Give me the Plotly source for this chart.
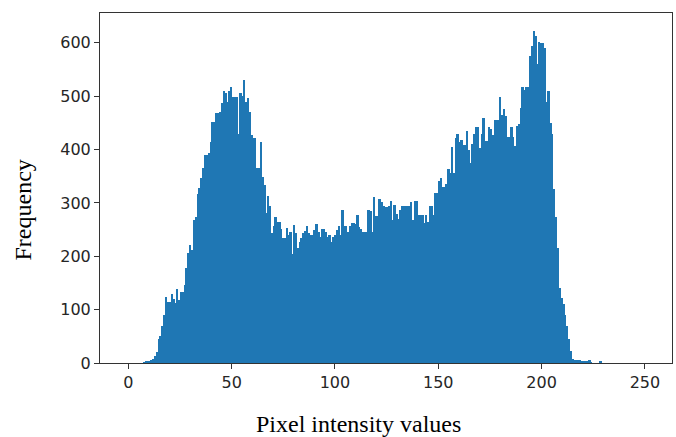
import plotly.graph_objects as go

# Histogram definition: 256 equal-width bins spanning [bin_lo, bin_hi]
bin_lo = 0.0
bin_hi = 230.0
n_bins = 256

counts = [
    0, 0, 0, 0, 0, 0, 0, 0, 1, 2,            # 0-9
    3, 4, 5, 7, 13, 21, 45, 50, 69, 90,      # 10-19
    124, 115, 115, 129, 120, 112, 139, 118, 134, 134,  # 20-29
    146, 178, 207, 221, 212, 268, 274, 317, 328, 347,  # 30-39
    365, 390, 390, 393, 415, 452, 452, 469, 469, 471,  # 40-49
    487, 509, 507, 490, 509, 518, 499, 499, 498, 430,  # 50-59
    507, 500, 531, 490, 497, 471, 428, 421, 421, 365,  # 60-69
    365, 415, 349, 334, 281, 313, 294, 243, 257, 274,  # 70-79
    265, 265, 251, 234, 234, 253, 240, 246, 205, 259,  # 80-89
    244, 215, 226, 234, 244, 248, 256, 243, 240, 240,  # 90-99
    249, 261, 246, 236, 252, 252, 246, 236, 240, 227,  # 100-109
    237, 239, 249, 256, 240, 286, 256, 256, 246, 257,  # 110-119
    262, 262, 260, 277, 255, 252, 246, 246, 246, 287,  # 120-129
    284, 246, 311, 276, 276, 307, 301, 294, 292, 292,  # 130-139
    294, 304, 268, 296, 279, 269, 286, 294, 294, 294,  # 140-149
    294, 294, 302, 268, 304, 304, 277, 277, 277, 262,  # 150-159
    277, 265, 294, 294, 277, 318, 318, 342, 346, 329,  # 160-169
    329, 336, 363, 356, 404, 356, 421, 429, 415, 418,  # 170-179
    409, 409, 434, 399, 374, 411, 430, 443, 443, 403,  # 180-189
    430, 459, 417, 417, 443, 438, 427, 456, 456, 456,  # 190-199
    498, 465, 476, 463, 423, 423, 442, 423, 406, 444,  # 200-209
    448, 478, 518, 512, 518, 518, 576, 594, 623, 613,  # 210-219
    560, 602, 600, 600, 590, 490, 509, 449, 429, 326,  # 220-229
    274, 215, 140, 121, 110, 90, 70, 45, 22, 8,        # 230-239
    5, 5, 5, 5, 4, 3, 3, 2, 6, 1,                      # 240-249
    0, 0, 0, 0, 4, 0,                                  # 250-255
]

x_ticks = [0, 50, 100, 150, 200, 250]
y_ticks = [0, 100, 200, 300, 400, 500, 600]
x_title = "Pixel intensity values"
y_title = "Frequency"

bin_w = (bin_hi - bin_lo) / n_bins
centers = [bin_lo + (i + 0.5) * bin_w for i in range(n_bins)]

fig = go.Figure(
    go.Bar(
        x=centers,
        y=counts,
        width=bin_w,
        marker=dict(color="#1f77b4", line=dict(width=0)),
        hoverinfo="x+y",
    )
)

axis_common = dict(
    showgrid=False,
    zeroline=False,
    showline=True,
    mirror=True,
    linecolor="#333333",
    linewidth=1,
    ticks="outside",
    ticklen=5,
    tickwidth=1,
    tickcolor="#333333",
    tickfont=dict(family="DejaVu Sans", size=16, color="#262626"),
)

fig.update_xaxes(
    range=[-13.7, 263.1],
    tickmode="array",
    tickvals=x_ticks,
    ticktext=[str(v) for v in x_ticks],
    **axis_common,
)
fig.update_yaxes(
    range=[0, 656],
    tickmode="array",
    tickvals=y_ticks,
    ticktext=[str(v) for v in y_ticks],
    **axis_common,
)

fig.update_layout(
    width=676,
    height=437,
    autosize=False,
    margin=dict(l=100, r=4, t=13, b=74),
    paper_bgcolor="white",
    plot_bgcolor="white",
    bargap=0,
    showlegend=False,
    annotations=[
        dict(
            text=x_title, xref="paper", yref="paper",
            x=(358 - 100) / 572, y=(363 - 424) / 350,
            xanchor="center", yanchor="middle", showarrow=False,
            font=dict(family="Liberation Serif", size=24, color="black"),
        ),
        dict(
            text=y_title, xref="paper", yref="paper",
            x=(22.5 - 100) / 572, y=(363 - 210) / 350,
            xanchor="center", yanchor="middle", showarrow=False,
            textangle=-90,
            font=dict(family="Liberation Serif", size=24, color="black"),
        ),
    ],
)

fig.write_html(
    "out.html",
    config={"displayModeBar": False},
    post_script="document.body.style.margin='0';document.body.style.overflow='hidden';",
)
